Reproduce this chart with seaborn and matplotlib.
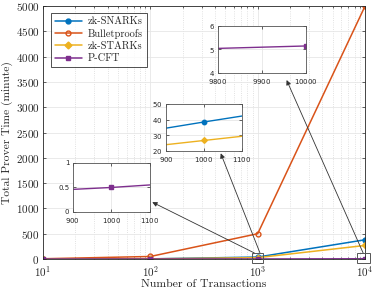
import matplotlib
matplotlib.use("Agg")
import matplotlib.pyplot as plt
import seaborn as sns
import pandas as pd
from matplotlib.patches import Rectangle
from matplotlib.ticker import LogLocator, NullFormatter

transactions = [10, 100, 1000, 10000]
snarks = [0.4, 3.0, 38.5, 380]
bullet = [5, 50, 500, 5000]
starks = [0.3, 2.5, 26.7, 268]
pcft = [0.1, 0.15, 0.5, 5.15]

names = ["zk-SNARKs", "Bulletproofs", "zk-STARKs", "P-CFT"]
colors = ["#0072BD", "#D95319", "#EDB120", "#7E2F8E"]
markers = ["o", "o", "D", "s"]
filled = [True, False, True, True]

df = pd.DataFrame({"x": transactions, names[0]: snarks, names[1]: bullet,
                   names[2]: starks, names[3]: pcft})

sns.set_style("ticks")
plt.rcParams["font.family"] = ["cmr10", "DejaVu Serif"]
plt.rcParams["mathtext.fontset"] = "cm"
plt.rcParams["axes.formatter.use_mathtext"] = True
plt.rcParams["axes.unicode_minus"] = False

fig = plt.figure(figsize=(3.74, 2.92), dpi=100)
ax = fig.add_axes([0.115, 0.113, 0.861, 0.866])


def draw(a, which, ms, lw):
    for i in which:
        n = names[i]
        sns.lineplot(data=df, x="x", y=n, ax=a, color=colors[i], marker=markers[i],
                     markersize=ms if markers[i] != "D" else ms * 0.9,
                     linewidth=lw, label=n,
                     markerfacecolor=colors[i] if filled[i] else "none",
                     markeredgecolor=colors[i], markeredgewidth=1.0,
                     legend=False)


draw(ax, [0, 1, 2, 3], 3.5, 1.1)
ax.set_xscale("log")
ax.set_xlim(10, 10000)
ax.set_ylim(0, 5000)
ax.set_yticks(range(0, 5001, 500))
ax.xaxis.set_minor_locator(LogLocator(base=10, subs=range(2, 10)))
ax.xaxis.set_minor_formatter(NullFormatter())
ax.grid(True, which="major", color="#e6e6e6", linewidth=0.6)
ax.grid(True, which="minor", axis="x", color="#d8d8d8", linestyle=":", linewidth=0.6)
ax.tick_params(direction="in", which="both", top=True, right=True, labelsize=8,
               length=2.5, width=0.5, pad=2.5)
ax.tick_params(axis="x", pad=4)
ax.tick_params(which="minor", length=1.5)
for s in ax.spines.values():
    s.set_linewidth(0.6)
    s.set_color("#262626")
ax.set_xlabel("Number of Transactions", fontsize=8.5, labelpad=0)
ax.set_ylabel("Total Prover Time (minute)", fontsize=8.3)
ax.yaxis.set_label_coords(-0.093, 0.5)

handles = []
for i in range(4):
    h, = ax.plot([], [], color=colors[i], marker=markers[i], markersize=3.5,
                 markerfacecolor=colors[i] if filled[i] else "none",
                 markeredgecolor=colors[i], linewidth=1.1)
    handles.append(h)
leg = ax.legend(handles, names, loc="upper left", bbox_to_anchor=(0.025, 0.972),
                fontsize=7.5, frameon=True, fancybox=False, edgecolor="black",
                borderpad=0.35, labelspacing=0.25, handlelength=2.6,
                handletextpad=0.6, borderaxespad=0)
leg.get_frame().set_linewidth(0.6)

# zoom boxes
ax.add_patch(Rectangle((890, -70), 240, 190, fill=False, edgecolor="#555555",
                       linewidth=0.7, clip_on=False, zorder=5))
ax.add_patch(Rectangle((8450, -70), 2700, 190, fill=False, edgecolor="#555555",
                       linewidth=0.7, clip_on=False, zorder=5))


def inset(rect, xlim, ylim, yticks, xticks, which, ylabels=None):
    a = fig.add_axes(rect)
    draw(a, which, 3.2, 1.0)
    a.set_xlim(*xlim)
    a.set_ylim(*ylim)
    a.set_xticks(xticks)
    a.set_yticks(yticks)
    if ylabels is not None:
        a.set_yticklabels(ylabels)
    a.set_xlabel("")
    a.set_ylabel("")
    a.grid(True, color="#e6e6e6", linewidth=0.6)
    a.tick_params(direction="in", labelsize=5.0, length=2, width=0.5,
                  top=True, right=True)
    a.tick_params(axis="x", pad=3)
    a.tick_params(axis="y", pad=2.5)
    for lab in a.get_xticklabels() + a.get_yticklabels():
        lab.set_fontfamily("DejaVu Sans")
    for s in a.spines.values():
        s.set_linewidth(0.6)
        s.set_color("#555555")
    return a


in1 = inset([0.583, 0.75, 0.235, 0.161], (9800, 10000), (4, 6), [4, 5, 6],
            [9800, 9900, 10000], [3])
in2 = inset([0.444, 0.483, 0.203, 0.161], (900, 1100), (20, 50), [20, 30, 40, 50],
            [900, 1000, 1100], [0, 2])
in3 = inset([0.195, 0.274, 0.206, 0.168], (900, 1100), (0, 1), [0, 0.5, 1],
            [900, 1000, 1100], [3], ["0", "0.5", "1"])

arrow = dict(arrowstyle="-|>", color="#333333", linewidth=0.6,
             mutation_scale=7, shrinkA=0, shrinkB=0)
ax.annotate("", xy=(1.03, 0.2), xycoords=in3.transAxes,
            xytext=(930, 120), textcoords=ax.transData, arrowprops=arrow)
ax.annotate("", xy=(0.72, -0.05), xycoords=in2.transAxes,
            xytext=(1050, 120), textcoords=ax.transData, arrowprops=arrow)
ax.annotate("", xy=(0.78, -0.15), xycoords=in1.transAxes,
            xytext=(9600, 120), textcoords=ax.transData, arrowprops=arrow)

fig.savefig("out.png", dpi=100)
